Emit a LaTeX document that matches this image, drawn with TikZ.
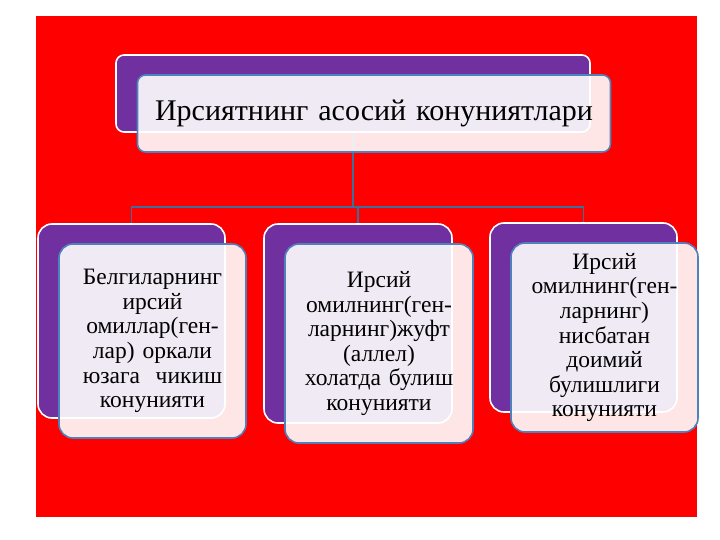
\documentclass[tikz,border=0pt]{standalone}
\usepackage{fontspec}
\setmainfont{Liberation Serif}
\usepackage{tikz}
\usetikzlibrary{positioning}
\usepackage{xcolor}
\definecolor{lawred}{RGB}{255,0,0}
\definecolor{lawpurple}{RGB}{112,48,160}
\definecolor{lawblue}{RGB}{79,129,189}
\definecolor{lawline}{RGB}{60,110,158}
\tikzstyle{link} = [line width=1.6pt, color=lawline]
\tikzstyle{back} = [rectangle, rounded corners=14pt, draw=white, fill=lawpurple, line width=1.6pt, inner sep=0pt]
\tikzstyle{front} = [rectangle, rounded corners=14pt, draw=lawblue, fill=white, fill opacity=0.9, text opacity=1, line width=1.6pt, inner sep=0pt, text width=182pt, align=center, font=\fontsize{23.5}{24.6}\selectfont, shift={(21,20)}]

\begin{document}
\begin{tikzpicture}[x=1pt, y=-1pt]
\useasboundingbox (0,0) rectangle (720,540);
% slide background
\fill[lawred] (36,16) rectangle (697,517);

% back plates
\node (titleback) [back, rounded corners=8pt, minimum width=474pt, minimum height=77pt] at (353,93.5) {};
\node (leftback) [back, minimum width=187pt, minimum height=194pt] at (131.5,321) {};
\node (midback) [back, minimum width=188pt, minimum height=199pt] at (358,323.5) {};
\node (rightback) [back, minimum width=187pt, minimum height=189pt] at (583.5,317.5) {};

% tree lines
\coordinate [below=74pt of titleback.south] (fork);
\draw[link] (titleback.south) -- (fork);
\foreach \child in {leftback, midback, rightback}
  \draw[link] (fork) -| (\child.north);

% front cards
\node (titlefront) [front, rounded corners=8pt, text width=473pt, minimum height=77pt, font=\fontsize{30}{36}\selectfont] at (titleback) {Ирсиятнинг асосий конуниятлари};
\node (leftfront) [front, minimum width=187pt, minimum height=194pt] at (leftback) {Белгиларнинг\\ирсий\\омиллар(ген-\\лар) оркали\\юзага\ \ чикиш\\конунияти};
\node (midfront) [front, minimum width=188pt, minimum height=199pt] at (midback) {Ирсий\\омилнинг(ген-\\ларнинг)жуфт\\(аллел)\\холатда булиш\\конунияти};
\node (rightfront) [front, minimum width=187pt, minimum height=189pt] at (rightback) {Ирсий\\омилнинг(ген-\\ларнинг)\\нисбатан\\доимий\\булишлиги\\конунияти};
\end{tikzpicture}
\end{document}
